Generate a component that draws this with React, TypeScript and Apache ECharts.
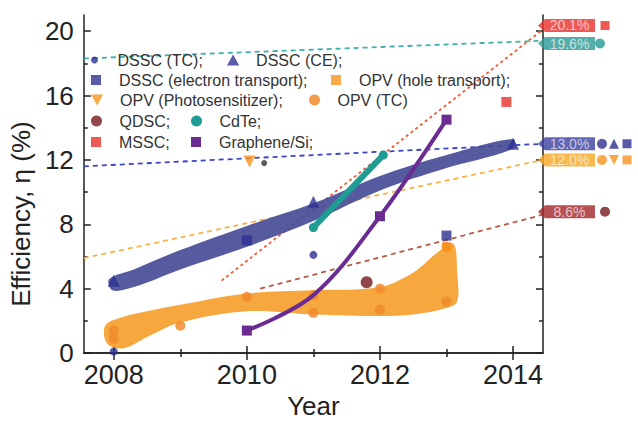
import React, { useEffect, useRef } from 'react';
import * as echarts from 'echarts';

// ---- axis ticks ----
const xMajor = [2008, 2010, 2012, 2014];
const xMinor = [2009, 2011, 2013];
const yMajor = [0, 4, 8, 12, 16, 20];
const yMinor = [2, 6, 10, 14, 18];
const X_MIN = 2007.55;
const X_MAX = 2014.45;
const Y_MIN = 0;
const Y_MAX = 21;

// ---- data points ----
const dsscTC = [[2008, 0.1], [2011, 6.1]];
const dsscCE = [[2008, 4.5], [2011, 9.4], [2014, 13.0]];
const dsscET = [[2010, 7.0], [2013, 7.3]];
const opvHT = [[2013, 6.6]];
const opvPS = [[2010.04, 11.9]];
const opvTC = [[2008, 1.4], [2008, 0.9], [2009, 1.7], [2010, 3.5], [2011, 2.5], [2011, 3.6], [2012, 4.0], [2012, 2.7], [2013, 3.2], [2013, 6.6]];
const qdsc = [[2011.8, 4.4]];
const greyDot = [[2010.26, 11.8]];
const cdte = [[2011, 7.8], [2012.05, 12.3]];
const mssc = [[2013.9, 15.6]];
const graphene = [[2010, 1.4], [2011, 3.6], [2012, 8.5], [2013, 14.5]];

// ---- dashed trend lines ----
const trendDSSC = [[X_MIN, 11.6], [X_MAX, 13.0]];
const trendOPV = [[X_MIN, 5.9], [X_MAX, 12.0]];
const trendCdTe = [[X_MIN, 18.3], [X_MAX, 19.4]];
const trendMSSC = [[2009.62, 4.5], [X_MAX, 20.1]];
const trendQDSC = [[2010.2, 4.0], [X_MAX, 8.6]];

// ---- shaded bands (outline: upper then lower) ----
const dsscBandUpper = [[2007.93, 4.6], [2008.3, 5.2], [2009, 6.4], [2010, 7.9], [2011, 9.3], [2012, 11.0], [2013, 12.3], [2014, 13.3]];
const dsscBandLower = [[2014, 12.7], [2013, 11.5], [2012, 10.1], [2011, 8.2], [2010, 6.6], [2009, 5.2], [2008.3, 4.1], [2007.98, 3.9]];
const opvBandUpper = [[2007.87, 1.7], [2008.1, 2.2], [2008.5, 2.6], [2009, 3.0], [2010, 3.7], [2011, 3.9], [2012, 4.1], [2012.5, 5.0], [2012.85, 6.2], [2013.1, 6.8], [2013.16, 5.0]];
const opvBandLower = [[2013.16, 3.2], [2013, 2.8], [2012.5, 2.4], [2012, 2.3], [2011, 2.4], [2010, 2.6], [2009, 1.9], [2008.5, 1.0], [2008.15, 0.3], [2007.9, 0.6]];

// ---- record tags ----
const tagValues = [20.1, 19.6, 13.0, 12.0, 8.6];
const tagIcons = [['rect'], ['circle'], ['circle', 'triangle', 'rect'], ['circle', 'triangleDown', 'rect'], ['circle']];

const FONT = 'Liberation Sans, Arial, sans-serif';
const C = {
  blue: '#2e3192',
  orange: '#f7941d',
  darkred: '#74191b',
  teal: '#1f9c94',
  red: '#e8302a',
  purple: '#6b2c91',
};
const tagColors = ['#e8302a', '#2a9a94', '#3a3fa0', '#f5a623', '#a2262a'];
const iconColors = [C.red, C.teal, C.blue, C.orange, C.darkred];
const tagShift = [-4, 6, 0, 0, -3];
const TRI_DOWN = 'path://M0,0 L10,0 L5,9 Z';
const TRI_UP = 'path://M5,0 L10,9 L0,9 Z';
const SQUARE = 'path://M0,0 L10,0 L10,10 L0,10 Z';
const TAG_PATH = 'path://M0,6 L7,0 L57,0 L57,12 L7,12 Z';

function bandSeries(upper: number[][], lower: number[][], color: string) {
  return {
    type: 'custom',
    silent: true,
    z: 1,
    clip: false,
    data: [[X_MIN, 0]],
    renderItem: (_p: any, api: any) => ({
      type: 'polygon',
      shape: { points: [...upper, ...lower].map((p) => api.coord(p)), smooth: 0.35 },
      style: { fill: color },
    }),
  };
}

function dashed(data: number[][], color: string, dash: number[]) {
  return {
    type: 'line',
    data,
    showSymbol: false,
    silent: true,
    z: 0,
    lineStyle: { color, width: 1.8, type: dash },
  };
}

export default function App() {
  const ref = useRef<HTMLDivElement>(null);
  useEffect(() => {
    if (!ref.current) return;
    const chart = echarts.init(ref.current, null, { renderer: 'svg' });
    const lineStyle = { color: '#222', width: 1.5 };
    const mkX = (pos: string, values: number[], len: number, line: boolean, label: boolean, extra: any = {}) => ({
      type: 'value',
      min: X_MIN,
      max: X_MAX,
      position: pos,
      axisLine: { show: line, lineStyle },
      splitLine: { show: false },
      axisTick: { show: true, inside: true, length: len, customValues: values, lineStyle },
      axisLabel: label
        ? { show: true, customValues: values, fontSize: 27, color: '#222', margin: 8, fontFamily: FONT, formatter: (v: number) => String(Math.round(v)) }
        : { show: false },
      ...extra,
    });
    const mkY = (pos: string, values: number[], len: number, line: boolean, label: boolean, extra: any = {}) => ({
      type: 'value',
      min: Y_MIN,
      max: Y_MAX,
      position: pos,
      axisLine: { show: line, lineStyle },
      splitLine: { show: false },
      axisTick: { show: true, inside: true, length: len, customValues: values, lineStyle },
      axisLabel: label
        ? { show: true, customValues: values, fontSize: 26, color: '#222', margin: 10, fontFamily: FONT }
        : { show: false },
      ...extra,
    });

    const legendItems = [
      { name: 'DSSC (TC)', icon: 'circle', cx: 97, cy: 61, size: 7 },
      { name: 'DSSC (CE)', icon: TRI_UP, cx: 233, cy: 61, size: 11 },
      { name: 'DSSC (electron transport)', icon: SQUARE, cx: 97, cy: 81, size: 10 },
      { name: 'OPV (hole transport)', icon: SQUARE, cx: 337, cy: 81, size: 10 },
      { name: 'OPV (Photosensitizer)', icon: TRI_DOWN, cx: 97, cy: 101, size: 11 },
      { name: 'OPV (TC)', icon: 'circle', cx: 315, cy: 101, size: 11 },
      { name: 'QDSC', icon: 'circle', cx: 97, cy: 122, size: 11 },
      { name: 'CdTe', icon: 'circle', cx: 197, cy: 122, size: 11 },
      { name: 'MSSC', icon: SQUARE, cx: 97, cy: 143, size: 10 },
      { name: 'Graphene/Si', icon: SQUARE, cx: 197, cy: 143, size: 10 },
    ];

    const tagSeries = {
      type: 'scatter',
      clip: false,
      silent: true,
      z: 6,
      symbolKeepAspect: false,
      data: tagValues.map((v, i) => ({
        value: [X_MAX, v],
        symbol: TAG_PATH,
        symbolSize: [57, 13],
        symbolOffset: [23.5, tagShift[i]],
        itemStyle: { color: tagColors[i] },
      })),
      label: {
        show: true,
        position: 'inside',
        offset: [3, 0],
        color: 'rgba(255,255,255,0.82)',
        fontSize: 14,
        fontFamily: FONT,
        formatter: (p: any) => p.value[1].toFixed(1) + '%',
      },
    };

    const iconOffsets = [[62], [57], [59, 71, 84], [59, 71, 84], [62]];
    const iconData: any[] = [];
    tagValues.forEach((v, i) => {
      tagIcons[i].forEach((s, j) => {
        iconData.push({
          value: [X_MAX, v],
          symbol: s === 'triangleDown' ? TRI_DOWN : s,
          symbolSize: s === 'rect' ? 9 : 10,
          symbolOffset: [iconOffsets[i][j], tagShift[i]],
          itemStyle: { color: iconColors[i] },
        });
      });
    });

    chart.setOption({
      animation: false,
      grid: { left: 82, right: 95, top: 15, bottom: 57, containLabel: false },
      xAxis: [
        mkX('bottom', xMajor, 7, true, true, {
          name: 'Year',
          nameLocation: 'middle',
          nameGap: 39,
          nameTextStyle: { fontSize: 26, color: '#222', fontFamily: FONT },
        }),
        mkX('bottom', xMinor, 4, false, false),
        mkX('top', xMajor, 7, true, false),
        mkX('top', xMinor, 4, false, false),
      ],
      yAxis: [
        mkY('left', yMajor, 7, true, true, {
          name: 'Efficiency, η (%)',
          nameLocation: 'middle',
          nameGap: 42,
          nameTextStyle: { fontSize: 26, color: '#222', fontFamily: FONT, padding: [0, 60, 0, 0] },
        }),
        mkY('left', yMinor, 4, false, false),
        mkY('right', yMajor, 7, true, false),
        mkY('right', yMinor, 4, false, false),
      ],
      legend: legendItems.map((it) => ({
        data: [{ name: it.name, icon: it.icon }],
        left: it.cx - 6,
        top: it.cy - 9,
        itemWidth: 36,
        itemHeight: it.size,
        padding: 0,
        selectedMode: false,
        symbolKeepAspect: true,
        textStyle: { fontSize: 16, color: '#333', fontFamily: FONT },
        formatter: (n: string) => (n === 'OPV (TC)' ? n : n + ';'),
      })),
      series: [
        dashed(trendCdTe, '#3fb0a8', [5, 4]),
        dashed(trendDSSC, '#3c44c8', [5, 4]),
        dashed(trendOPV, '#f7b24a', [5, 4]),
        dashed(trendMSSC, '#ef5a36', [3, 3]),
        dashed(trendQDSC, '#b85a44', [5, 4]),
        bandSeries(opvBandUpper, opvBandLower, 'rgba(245,160,45,0.92)'),
        bandSeries(dsscBandUpper, dsscBandLower, 'rgba(72,76,150,0.92)'),
        { name: 'OPV (TC)', type: 'scatter', z: 3, data: opvTC, symbol: 'circle', symbolSize: 10, itemStyle: { color: '#f08a2a', opacity: 0.85 } },
        { name: 'OPV (hole transport)', type: 'scatter', z: 3, data: opvHT, symbol: 'rect', symbolSize: 9, itemStyle: { color: C.orange } },
        { name: 'OPV (Photosensitizer)', type: 'scatter', z: 3, data: opvPS, symbol: TRI_DOWN, symbolSize: 12, itemStyle: { color: C.orange } },
        { name: 'DSSC (TC)', type: 'scatter', z: 3, data: dsscTC, symbol: 'circle', symbolSize: 8, itemStyle: { color: C.blue } },
        { name: 'DSSC (CE)', type: 'scatter', z: 4, data: dsscCE, symbol: 'triangle', symbolSize: 12, itemStyle: { color: C.blue } },
        { name: 'DSSC (electron transport)', type: 'scatter', z: 4, data: dsscET, symbol: 'rect', symbolSize: 10, itemStyle: { color: C.blue } },
        { name: 'QDSC', type: 'scatter', z: 3, data: qdsc, symbol: 'circle', symbolSize: 12, itemStyle: { color: C.darkred } },
        { type: 'scatter', z: 3, data: greyDot, symbol: 'circle', symbolSize: 6, itemStyle: { color: '#333' } },
        {
          name: 'CdTe', type: 'line', z: 4, data: cdte, symbol: 'circle', symbolSize: 9,
          lineStyle: { color: C.teal, width: 6 }, itemStyle: { color: C.teal },
        },
        { name: 'MSSC', type: 'scatter', z: 3, data: mssc, symbol: 'rect', symbolSize: 10, itemStyle: { color: C.red } },
        {
          name: 'Graphene/Si', type: 'line', z: 5, smooth: 0.35,
          data: graphene.map((p, i) => (i === 1 ? { value: p, symbol: 'none' } : { value: p })),
          symbol: 'rect', symbolSize: 10, showAllSymbol: true,
          lineStyle: { color: C.purple, width: 4 }, itemStyle: { color: C.purple },
        },
        tagSeries,
        { type: 'scatter', clip: false, silent: true, z: 6, data: iconData },
      ],
    });
    return () => chart.dispose();
  }, []);
  return <div ref={ref} style={{ position: 'fixed', left: 0, top: 0, width: 638, height: 424, background: '#fff' }} />;
}
